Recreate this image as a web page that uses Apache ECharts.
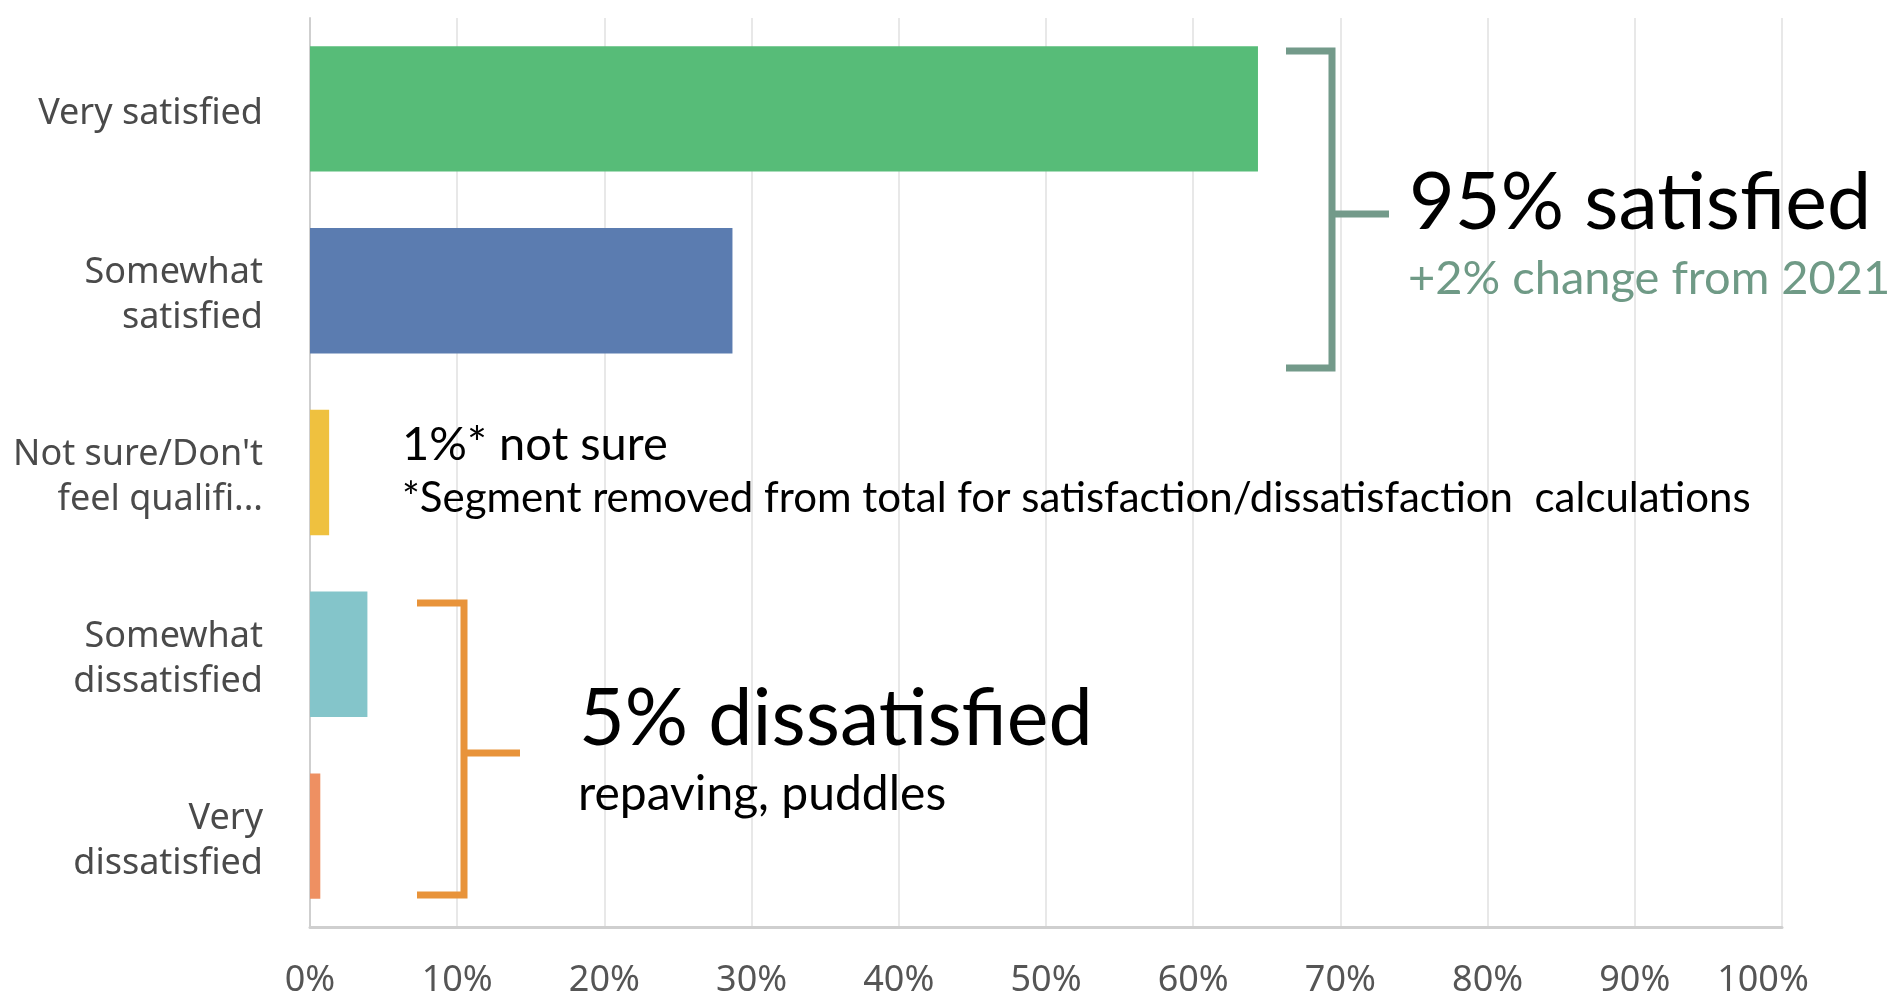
<!DOCTYPE html>
<html>
<head>
<meta charset="utf-8">
<title>Satisfaction</title>
<script src="https://cdn.jsdelivr.net/npm/echarts@6/dist/echarts.min.js"></script>
<style>
  html, body { margin: 0; padding: 0; background: #ffffff; }
  #chart { width: 1893px; height: 994px; }
</style>
</head>
<body>
<div id="chart"></div>
<script>
// Survey answers, top to bottom
const categories = [
  'Very satisfied',
  'Somewhat\nsatisfied',
  "Not sure/Don't\nfeel qualifi...",
  'Somewhat\ndissatisfied',
  'Very\ndissatisfied'
];
// Share of respondents (%)
const values = [64.4, 28.7, 1.3, 3.9, 0.7];
const barColors = ['#57bc78', '#5b7cb0', '#efc13f', '#84c5ca', '#ee9062'];
// Value axis ticks (%)
const tickMin = 0;
const tickMax = 100;
const tickStep = 10;

const chart = echarts.init(document.getElementById('chart'), null, { renderer: 'canvas' });

const annoFont = 'Lato';
const satGreen = '#739a8a';
const dissOrange = '#e8933a';

chart.setOption({
  backgroundColor: '#ffffff',
  animation: false,
  grid: {
    left: 310, right: 111, top: 18, bottom: 67,
    containLabel: false,
    outerBoundsMode: 'none'
  },
  xAxis: {
    type: 'value',
    min: tickMin,
    max: tickMax,
    interval: tickStep,
    axisLine: { show: true, lineStyle: { color: '#cfcfcf', width: 3 } },
    axisTick: { show: false },
    axisLabel: {
      // the last label sits a little inward so it stays clear of the edge
      formatter: v => (v === tickMax ? '{last|' + v + '%}' : v + '%'),
      fontFamily: 'Noto Sans',
      fontSize: 36,
      color: '#555555',
      margin: 36,
      rich: {
        last: { fontFamily: 'Noto Sans', fontSize: 36, color: '#555555', padding: [0, 38, 0, 0] }
      }
    },
    splitLine: { show: true, lineStyle: { color: '#e8e8e8', width: 2 } }
  },
  yAxis: {
    type: 'category',
    inverse: true,
    data: categories,
    axisLine: { show: true, lineStyle: { color: '#cfcfcf', width: 2 } },
    axisTick: { show: false },
    axisLabel: {
      // each line is set a few pixels low inside its row
      formatter: v => v.split('\n').map(s => '{t|' + s + '}').join('\n'),
      margin: 47,
      align: 'right',
      rich: {
        t: {
          fontFamily: 'Noto Sans',
          fontSize: 36,
          color: '#4a4a4a',
          lineHeight: 45,
          padding: [10, 0, 0, 0],
          align: 'right'
        }
      }
    },
    splitLine: { show: false }
  },
  series: [{
    type: 'bar',
    barCategoryGap: '31%',
    data: values.map((v, i) => ({ value: v, itemStyle: { color: barColors[i] } })),
    label: { show: false }
  }],
  graphic: [
    // bracket around the satisfied answers
    {
      type: 'polyline', z: 10,
      shape: { points: [[1286, 51], [1332, 51], [1332, 368], [1286, 368]] },
      style: { stroke: satGreen, lineWidth: 7, fill: null, lineJoin: 'miter' }
    },
    {
      type: 'line', z: 10,
      shape: { x1: 1332, y1: 214, x2: 1389, y2: 214 },
      style: { stroke: satGreen, lineWidth: 7 }
    },
    {
      type: 'text', z: 10, x: 1409, y: 204,
      style: { text: '95% satisfied', font: '79px ' + annoFont, fill: '#000000', verticalAlign: 'middle' }
    },
    {
      type: 'text', z: 10, x: 1408, y: 279,
      style: { text: '+2% change from 2021', font: '47px ' + annoFont, fill: '#6f9a86', verticalAlign: 'middle' }
    },
    // note for the "not sure" answer
    {
      type: 'text', z: 10, x: 402, y: 445,
      style: { text: '1%* not sure', font: '47px ' + annoFont, fill: '#000000', verticalAlign: 'middle' }
    },
    {
      type: 'text', z: 10, x: 402, y: 498,
      style: { text: '*Segment removed from total for satisfaction/dissatisfaction  calculations', font: '42px ' + annoFont, fill: '#000000', verticalAlign: 'middle' }
    },
    // bracket around the dissatisfied answers
    {
      type: 'polyline', z: 10,
      shape: { points: [[417, 603], [464, 603], [464, 895], [417, 895]] },
      style: { stroke: dissOrange, lineWidth: 7, fill: null, lineJoin: 'miter' }
    },
    {
      type: 'line', z: 10,
      shape: { x1: 464, y1: 753, x2: 520, y2: 753 },
      style: { stroke: dissOrange, lineWidth: 7 }
    },
    {
      type: 'text', z: 10, x: 579, y: 720,
      style: { text: '5% dissatisfied', font: '79px ' + annoFont, fill: '#000000', verticalAlign: 'middle' }
    },
    {
      type: 'text', z: 10, x: 578, y: 795,
      style: { text: 'repaving, puddles', font: '48px ' + annoFont, fill: '#000000', verticalAlign: 'middle' }
    }
  ]
});
</script>
</body>
</html>
